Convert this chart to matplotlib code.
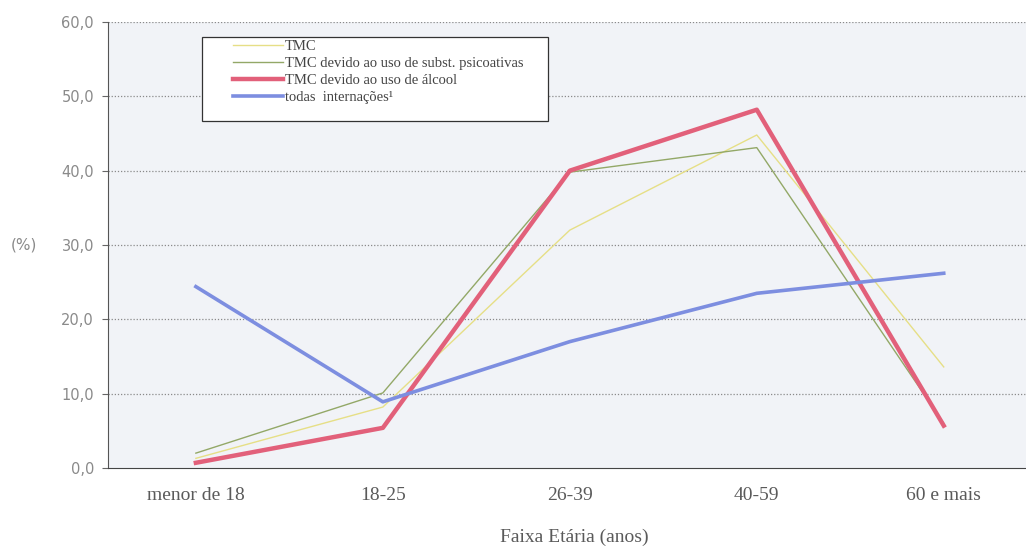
import numpy as np
import matplotlib.pyplot as plt
from matplotlib.patches import Rectangle

# Internações por faixa etária (%)
faixas = ['menor de 18', '18-25', '26-39', '40-59', '60 e mais']
tmc = [1.3, 8.2, 32.0, 44.8, 13.6]
tmc_subst = [2.0, 10.1, 39.8, 43.1, 6.0]
tmc_alcool = [0.7, 5.4, 40.0, 48.2, 5.7]
todas = [24.4, 8.9, 17.0, 23.5, 26.2]

y_ticks = [0, 10, 20, 30, 40, 50, 60]

fig = plt.figure(figsize=(10.26, 5.49), dpi=100)
ax = fig.add_axes([108 / 1026, 81 / 549, 918 / 1026, 446 / 549])
ax.set_facecolor('#f1f3f7')

x = np.arange(len(faixas))
ax.plot(x, tmc, color='#e6df86', lw=1.0, label='TMC', zorder=3)
ax.plot(x, tmc_subst, color='#93a867', lw=1.0,
        label='TMC devido ao uso de subst. psicoativas', zorder=3)
ax.plot(x, tmc_alcool, color='#e2607a', lw=3.2,
        label='TMC devido ao uso de álcool', zorder=3)
ax.plot(x, todas, color='#7d8ee0', lw=2.6, label='todas  internações¹', zorder=3)

ax.set_xlim(-0.47, 4.44)
ax.set_ylim(0, 60)
ax.set_xticks(x)
ax.set_xticklabels(faixas, family='Liberation Serif', fontsize=14, color='#5a5a5a')
ax.tick_params(axis='x', length=0, pad=14)
ax.set_yticks(y_ticks)
ax.set_yticklabels([f'{v:.1f}'.replace('.', ',') for v in y_ticks],
                   family='DejaVu Sans', fontsize=10.5, color='#8a8a8a')
ax.tick_params(axis='y', length=4, color='#666666', direction='out', pad=6)

for v in y_ticks[1:]:
    ax.axhline(v, color='#8a8a8a', lw=0.9, ls=(0, (1, 1.5)), zorder=1)

for side in ['top', 'right']:
    ax.spines[side].set_visible(False)
ax.spines['left'].set_color('#555555')
ax.spines['bottom'].set_color('#444444')

# caixa da legenda
ax.add_patch(Rectangle((94 / 918, 347 / 446), 346 / 918, 84 / 446,
                       transform=ax.transAxes, facecolor='white',
                       edgecolor='#333333', lw=0.9, zorder=4))
leg = ax.legend(loc='upper left', bbox_to_anchor=(125 / 918, 428 / 446),
                frameon=False, borderpad=0, borderaxespad=0,
                handlelength=3.4, handletextpad=0.15, labelspacing=0.25,
                prop={'family': 'Liberation Serif', 'size': 10.5})
leg.set_zorder(5)
for t in leg.get_texts():
    t.set_color('#444444')

fig.text(574 / 1026, 1 - 537 / 549, 'Faixa Etária (anos)', family='Liberation Serif',
         fontsize=14, color='#5a5a5a', ha='center', va='center')
fig.text(24 / 1026, 1 - 245 / 549, '(%)', family='DejaVu Sans', fontsize=11,
         color='#8a8a8a', ha='center', va='center')

fig.savefig('out.png', dpi=100, facecolor='white')
